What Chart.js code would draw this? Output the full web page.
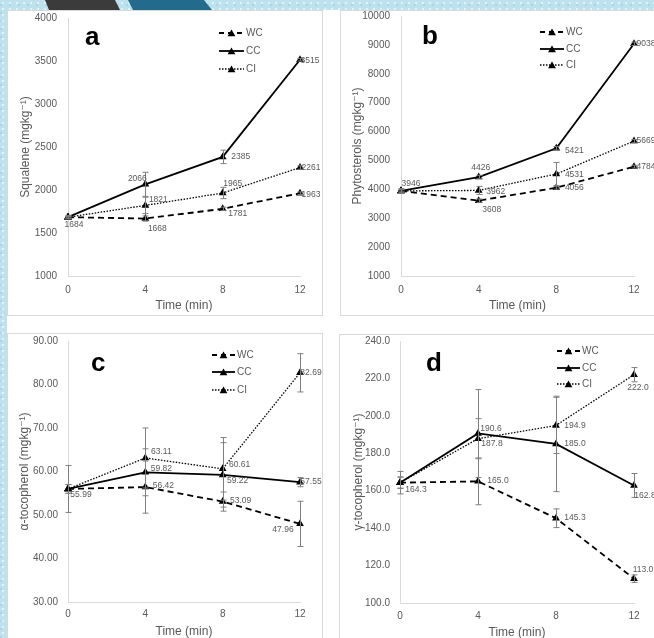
<!DOCTYPE html>
<html>
<head>
<meta charset="utf-8">
<script src="https://cdn.jsdelivr.net/npm/chart.js@4/dist/chart.umd.min.js"></script>
<style>
  html, body { margin: 0; padding: 0; }
  body {
    width: 654px; height: 638px; overflow: hidden; position: relative;
    background-color: #bde2ee;
    background-image: radial-gradient(circle at 3px 3px, #e2f3f8 1px, transparent 1.6px),
                      radial-gradient(circle at 1px 5px, #a9d6e6 0.8px, transparent 1.3px);
    background-size: 7px 6px, 9px 8px;
  }
  #sheet { position: absolute; left: 7px; top: 10px; width: 647px; height: 628px; background: #fff; }
  .deco { position: absolute; top: 0; height: 10px; }
  #decoGray { left: 45px; width: 75px; background: #3b3b3b; clip-path: polygon(0 0, 70px 0, 75px 10px, 4px 10px); }
  #decoBlue { left: 128px; width: 84px; background: #236b8c; clip-path: polygon(0 0, 76px 0, 84px 10px, 5px 10px); }
  .panel { position: absolute; box-sizing: border-box; border: 1px solid #d9d9d9; background: #fff; }
  .panel canvas { display: block; }
</style>
</head>
<body>
<div class="deco" id="decoGray"></div>
<div class="deco" id="decoBlue"></div>
<div id="sheet"></div>
<div class="panel" style="left:7px; top:10px; width:316px; height:306px;"><canvas id="chartA" width="314" height="304"></canvas></div>
<div class="panel" style="left:340px; top:10px; width:320px; height:306px;"><canvas id="chartB" width="318" height="304"></canvas></div>
<div class="panel" style="left:7px; top:333px; width:316px; height:310px;"><canvas id="chartC" width="314" height="308"></canvas></div>
<div class="panel" style="left:339px; top:334px; width:320px; height:310px;"><canvas id="chartD" width="318" height="308"></canvas></div>

<script>
const FONT = '"Liberation Sans", "DejaVu Sans", Arial, sans-serif';
const TEXT_GREY = '#595959';

// shared categories
const times = [0, 4, 8, 12];
const seriesNames = ['WC', 'CC', 'CI'];

// a - squalene
const squaleneWC = [1684, 1668, 1781, 1963];
const squaleneCC = [1684, 2066, 2385, 3515];
const squaleneCI = [1684, 1821, 1965, 2261];
const squaleneErrWC = [20, 30, 20, 15];
const squaleneErrCC = [10, 140, 78, 15];
const squaleneErrCI = [10, 95, 66, 20];
const squaleneTicks = [1000, 1500, 2000, 2500, 3000, 3500, 4000];

// b - phytosterols
const sterolsWC = [3946, 3608, 4056, 4784];
const sterolsCC = [3946, 4426, 5421, 9038];
const sterolsCI = [3946, 3962, 4531, 5669];
const sterolsErrWC = [80, 60, 50, 50];
const sterolsErrCC = [40, 60, 60, 60];
const sterolsErrCI = [40, 140, 400, 60];
const sterolsTicks = [1000, 2000, 3000, 4000, 5000, 6000, 7000, 8000, 9000, 10000];

// c - alpha-tocopherol
const alphaWC = [55.99, 56.42, 53.09, 47.96];
const alphaCC = [55.99, 59.82, 59.22, 57.55];
const alphaCI = [55.99, 63.11, 60.61, 82.69];
const alphaErrWC = [5.4, 6.0, 2.2, 5.2];
const alphaErrCC = [1.0, 5.4, 7.4, 1.05];
const alphaErrCI = [1.0, 6.9, 7.2, 4.4];
const alphaTicks = [30, 40, 50, 60, 70, 80, 90];

// d - gamma-tocopherol
const gammaWC = [164.3, 165.0, 145.3, 113.0];
const gammaCC = [164.3, 190.6, 185.0, 162.8];
const gammaCI = [164.3, 187.8, 194.9, 222.0];
const gammaErrWC = [6.0, 12.5, 5.0, 2.0];
const gammaErrCC = [3.0, 23.5, 25.5, 6.4];
const gammaErrCI = [3.0, 10.7, 15.0, 3.8];
const gammaTicks = [100, 120, 140, 160, 180, 200, 220, 240];

// line look for WC, CC, CI
const lineLook = [
  { dash: [6, 4], width: 1.8 },
  { dash: [], width: 1.8 },
  { dash: [1.5, 1.5], width: 1.3 }
];

function triangle(ctx, x, y, r) {
  ctx.beginPath();
  ctx.moveTo(x, y - r);
  ctx.lineTo(x + r * 0.866, y + r * 0.5);
  ctx.lineTo(x - r * 0.866, y + r * 0.5);
  ctx.closePath();
  ctx.fill();
}

function buildPanel(id, p) {
  const values = [p.wc, p.cc, p.ci];
  const errors = [p.errWc, p.errCc, p.errCi];

  const datasets = seriesNames.map((name, i) => ({
    label: name,
    data: times.map((t, j) => ({ x: t, y: values[i][j] })),
    borderColor: '#000',
    backgroundColor: '#000',
    borderWidth: lineLook[i].width,
    borderDash: lineLook[i].dash,
    pointStyle: 'triangle',
    pointRadius: 4.5,
    pointBackgroundColor: '#000',
    pointBorderWidth: 0,
    tension: 0,
    fill: false,
    clip: false
  }));

  const extras = {
    id: 'extras' + id,
    afterDatasetsDraw(chart) {
      const { ctx, scales: { x, y } } = chart;
      ctx.save();
      ctx.setLineDash([]);
      ctx.strokeStyle = '#7f7f7f';
      ctx.lineWidth = 1;
      errors.forEach((arr, i) => arr.forEach((e, j) => {
        const px = Math.round(x.getPixelForValue(times[j])) + 0.5;
        const hi = y.getPixelForValue(values[i][j] + e);
        const lo = y.getPixelForValue(values[i][j] - e);
        ctx.beginPath();
        ctx.moveTo(px, hi); ctx.lineTo(px, lo);
        ctx.moveTo(px - 3, hi); ctx.lineTo(px + 3, hi);
        ctx.moveTo(px - 3, lo); ctx.lineTo(px + 3, lo);
        ctx.stroke();
      }));

      // value labels
      ctx.fillStyle = TEXT_GREY;
      ctx.font = '8.5px ' + FONT;
      ctx.textAlign = 'center';
      ctx.textBaseline = 'middle';
      p.labelOffsets.forEach((arr, i) => arr.forEach((off, j) => {
        if (!off) return;
        const px = x.getPixelForValue(times[j]);
        const py = y.getPixelForValue(values[i][j]);
        ctx.fillText(values[i][j].toFixed(p.dec), px + off[0], py + off[1]);
      }));

      // panel letter
      ctx.fillStyle = '#000';
      ctx.font = 'bold 26px ' + FONT;
      ctx.textAlign = 'left';
      ctx.textBaseline = 'alphabetic';
      ctx.fillText(p.letter, p.letterPos[0], p.letterPos[1]);

      // legend
      const lg = p.legend;
      ctx.font = '10px ' + FONT;
      ctx.textBaseline = 'middle';
      seriesNames.forEach((name, i) => {
        const ly = lg.y[i];
        ctx.strokeStyle = '#000';
        ctx.lineWidth = lineLook[i].width;
        ctx.setLineDash(lineLook[i].dash.length ? (i === 0 ? [5, 4] : [1.5, 1.5]) : []);
        ctx.beginPath();
        ctx.moveTo(lg.x1, ly); ctx.lineTo(lg.x2, ly);
        ctx.stroke();
        ctx.setLineDash([]);
        ctx.fillStyle = '#000';
        triangle(ctx, (lg.x1 + lg.x2) / 2, ly + 1, 4.5);
        ctx.fillStyle = TEXT_GREY;
        ctx.fillText(name, lg.x2 + 2, ly);
      });
      ctx.restore();
    }
  };

  new Chart(document.getElementById(id), {
    type: 'line',
    data: { datasets },
    options: {
      responsive: false,
      animation: false,
      events: [],
      layout: { padding: p.pad },
      scales: {
        x: {
          type: 'linear',
          min: times[0],
          max: times[times.length - 1],
          afterBuildTicks: s => { s.ticks = times.map(v => ({ value: v })); },
          afterFit: s => { s.height = p.xH; s.paddingLeft = 0; s.paddingRight = 0; },
          grid: { display: false, drawTicks: false },
          border: { display: true, color: '#d9d9d9', width: 1 },
          ticks: { padding: p.xTickPad, color: TEXT_GREY, font: { size: 10, family: FONT }, maxRotation: 0 },
          title: { display: true, text: 'Time (min)', color: TEXT_GREY, font: { size: 12, family: FONT }, padding: { top: 0, bottom: p.xTitlePad } }
        },
        y: {
          type: 'linear',
          min: p.ticks[0],
          max: p.ticks[p.ticks.length - 1],
          afterBuildTicks: s => { s.ticks = p.ticks.map(v => ({ value: v })); },
          afterFit: s => { s.width = 60; s.paddingTop = 0; s.paddingBottom = 0; },
          grid: { display: false, drawTicks: false },
          border: { display: true, color: '#d9d9d9', width: 1 },
          ticks: { padding: p.yTickPad, color: TEXT_GREY, font: { size: 10, family: FONT }, callback: v => v.toFixed(p.tickDec) },
          title: { display: true, text: p.yTitle, color: TEXT_GREY, font: { size: 12, family: FONT }, padding: { top: p.yTitlePad, bottom: 0 } }
        }
      },
      plugins: { legend: { display: false }, tooltip: { enabled: false } }
    },
    plugins: [extras]
  });
}

buildPanel('chartA', {
  wc: squaleneWC, cc: squaleneCC, ci: squaleneCI,
  errWc: squaleneErrWC, errCc: squaleneErrCC, errCi: squaleneErrCI,
  ticks: squaleneTicks, tickDec: 0, dec: 0,
  yTitle: 'Squalene (mgkg\u207B\u00B9)',
  pad: { left: 0, right: 22, top: 7, bottom: 0 }, xH: 39,
  xTickPad: 8, xTitlePad: 2, yTickPad: 11, yTitlePad: 10,
  letter: 'a', letterPos: [77, 34],
  legend: { x1: 211, x2: 236, y: [22, 40, 58] },
  labelOffsets: [
    [[6, 7], [12, 10], [15, 5], [11, 1]],
    [null, [-8, -6], [18, 0], [10, 1]],
    [null, [13, -6], [10, -9], [11, 0]]
  ]
});

buildPanel('chartB', {
  wc: sterolsWC, cc: sterolsCC, ci: sterolsCI,
  errWc: sterolsErrWC, errCc: sterolsErrCC, errCi: sterolsErrCI,
  ticks: sterolsTicks, tickDec: 0, dec: 0,
  yTitle: 'Phytosterols (mgkg\u207B\u00B9)',
  pad: { left: 0, right: 25, top: 5, bottom: 0 }, xH: 39,
  xTickPad: 8, xTitlePad: 2, yTickPad: 11, yTitlePad: 9,
  letter: 'b', letterPos: [81, 33],
  legend: { x1: 199, x2: 223, y: [21, 38, 54] },
  labelOffsets: [
    [[10, -7], [13, 9], [18, 0], [12, 0]],
    [null, [2, -9], [18, 2], [12, 0]],
    [null, [17, 1], [18, 1], [12, 0]]
  ]
});

buildPanel('chartC', {
  wc: alphaWC, cc: alphaCC, ci: alphaCI,
  errWc: alphaErrWC, errCc: alphaErrCC, errCi: alphaErrCI,
  ticks: alphaTicks, tickDec: 2, dec: 2,
  yTitle: '\u03B1-tocopherol (mgkg\u207B\u00B9)',
  pad: { left: 0, right: 22, top: 7, bottom: 0 }, xH: 40,
  xTickPad: 6, xTitlePad: 3, yTickPad: 10, yTitlePad: 9,
  letter: 'c', letterPos: [83, 37],
  legend: { x1: 204, x2: 227, y: [21, 38, 56] },
  labelOffsets: [
    [[13, 6], [18, -1], [18, -1], [-17, 6]],
    [null, [16, -4], [15, 6], [11, -1]],
    [null, [16, -6], [17, -4], [11, 0]]
  ]
});

buildPanel('chartD', {
  wc: gammaWC, cc: gammaCC, ci: gammaCI,
  errWc: gammaErrWC, errCc: gammaErrCC, errCi: gammaErrCI,
  ticks: gammaTicks, tickDec: 1, dec: 1,
  yTitle: '\u03B3-tocopherol (mgkg\u207B\u00B9)',
  pad: { left: 0, right: 24, top: 6, bottom: 0 }, xH: 40,
  xTickPad: 7, xTitlePad: 3, yTickPad: 10, yTitlePad: 11,
  letter: 'd', letterPos: [86, 36],
  legend: { x1: 217, x2: 240, y: [16, 33, 49] },
  labelOffsets: [
    [[16, 7], [20, -1], [19, -1], [9, -9]],
    [null, [13, -5], [19, 0], [11, 10]],
    [null, [14, 5], [19, 0], [4, 13]]
  ]
});
</script>
</body>
</html>
